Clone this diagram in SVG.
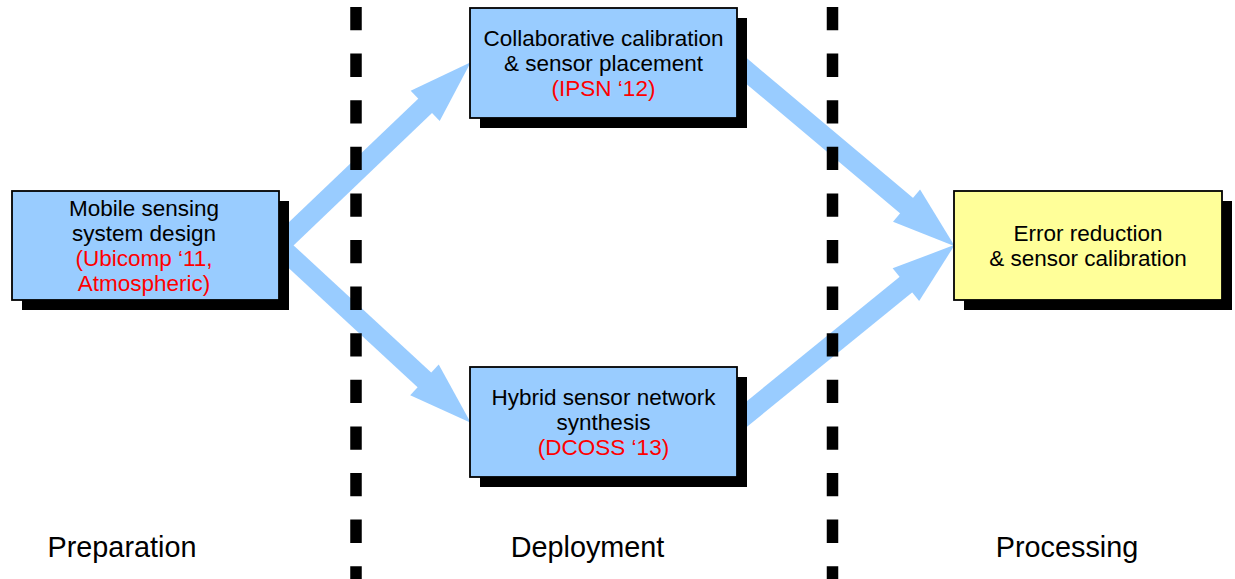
<svg xmlns="http://www.w3.org/2000/svg" width="1235" height="579" viewBox="0 0 1235 579">
  <style>
    .flow { stroke: #99ccff; stroke-width: 20; fill: none; marker-end: url(#head); }
    .divider { stroke: #000; stroke-width: 11.5; stroke-dasharray: 23.3 23.3; }
    .shadow { fill: #000; }
    .box { stroke: #000; stroke-width: 1.8; }
    .blue { fill: #99ccff; }
    .yellow { fill: #ffff99; }
    text { font-family: "Liberation Sans", Arial, sans-serif; text-anchor: middle; }
    .lbl { font-size: 22.5px; fill: #000; }
    .ref { font-size: 22.5px; fill: #ff0000; }
    .phase { font-size: 28.8px; fill: #000; }
  </style>
  <defs>
    <marker id="head" markerUnits="strokeWidth" orient="auto" viewBox="0 -1.05 3.15 2.1" refX="0.05" refY="0" markerWidth="3.15" markerHeight="2.1" overflow="visible">
      <path d="M0,-1.05 L3.15,0 L0,1.05 Z" fill="#99ccff"/>
    </marker>
  </defs>

  <!-- connectors -->
  <g id="connectors">
    <line class="flow" x1="279" y1="245.5" x2="425.90" y2="105.14"/>
    <line class="flow" x1="279" y1="245.5" x2="425.20" y2="380.60"/>
    <line class="flow" x1="737" y1="63" x2="907.32" y2="206.24"/>
    <line class="flow" x1="737" y1="422" x2="906.68" y2="283.99"/>
  </g>

  <!-- phase dividers -->
  <g id="dividers">
    <line class="divider" x1="356" y1="7" x2="356" y2="579"/>
    <line class="divider" x1="832.5" y1="7" x2="832.5" y2="579"/>
  </g>

  <g id="mobile-sensing">
    <rect class="shadow" x="22" y="201" width="267" height="109"/>
    <rect class="box blue" x="12" y="191" width="267" height="109"/>
    <text class="lbl" x="144" y="216">Mobile sensing</text>
    <text class="lbl" x="144" y="241">system design</text>
    <text class="ref" x="144" y="266">(Ubicomp ‘11,</text>
    <text class="ref" x="144" y="291">Atmospheric)</text>
  </g>

  <g id="collaborative-calibration">
    <rect class="shadow" x="480" y="18" width="267" height="110"/>
    <rect class="box blue" x="470" y="8" width="267" height="110"/>
    <text class="lbl" x="603.5" y="46">Collaborative calibration</text>
    <text class="lbl" x="603.5" y="71">&amp; sensor placement</text>
    <text class="ref" x="603.5" y="96">(IPSN ‘12)</text>
  </g>

  <g id="hybrid-network">
    <rect class="shadow" x="480" y="377" width="267" height="110"/>
    <rect class="box blue" x="470" y="367" width="267" height="110"/>
    <text class="lbl" x="603.5" y="405">Hybrid sensor network</text>
    <text class="lbl" x="603.5" y="430">synthesis</text>
    <text class="ref" x="603.5" y="455">(DCOSS ‘13)</text>
  </g>

  <g id="error-reduction">
    <rect class="shadow" x="964" y="201" width="268" height="109"/>
    <rect class="box yellow" x="954" y="191" width="268" height="109"/>
    <text class="lbl" x="1088" y="241">Error reduction</text>
    <text class="lbl" x="1088" y="266">&amp; sensor calibration</text>
  </g>

  <!-- phase labels -->
  <g id="phases">
    <text class="phase" x="122" y="557">Preparation</text>
    <text class="phase" x="587.5" y="557">Deployment</text>
    <text class="phase" x="1067" y="557">Processing</text>
  </g>
</svg>
